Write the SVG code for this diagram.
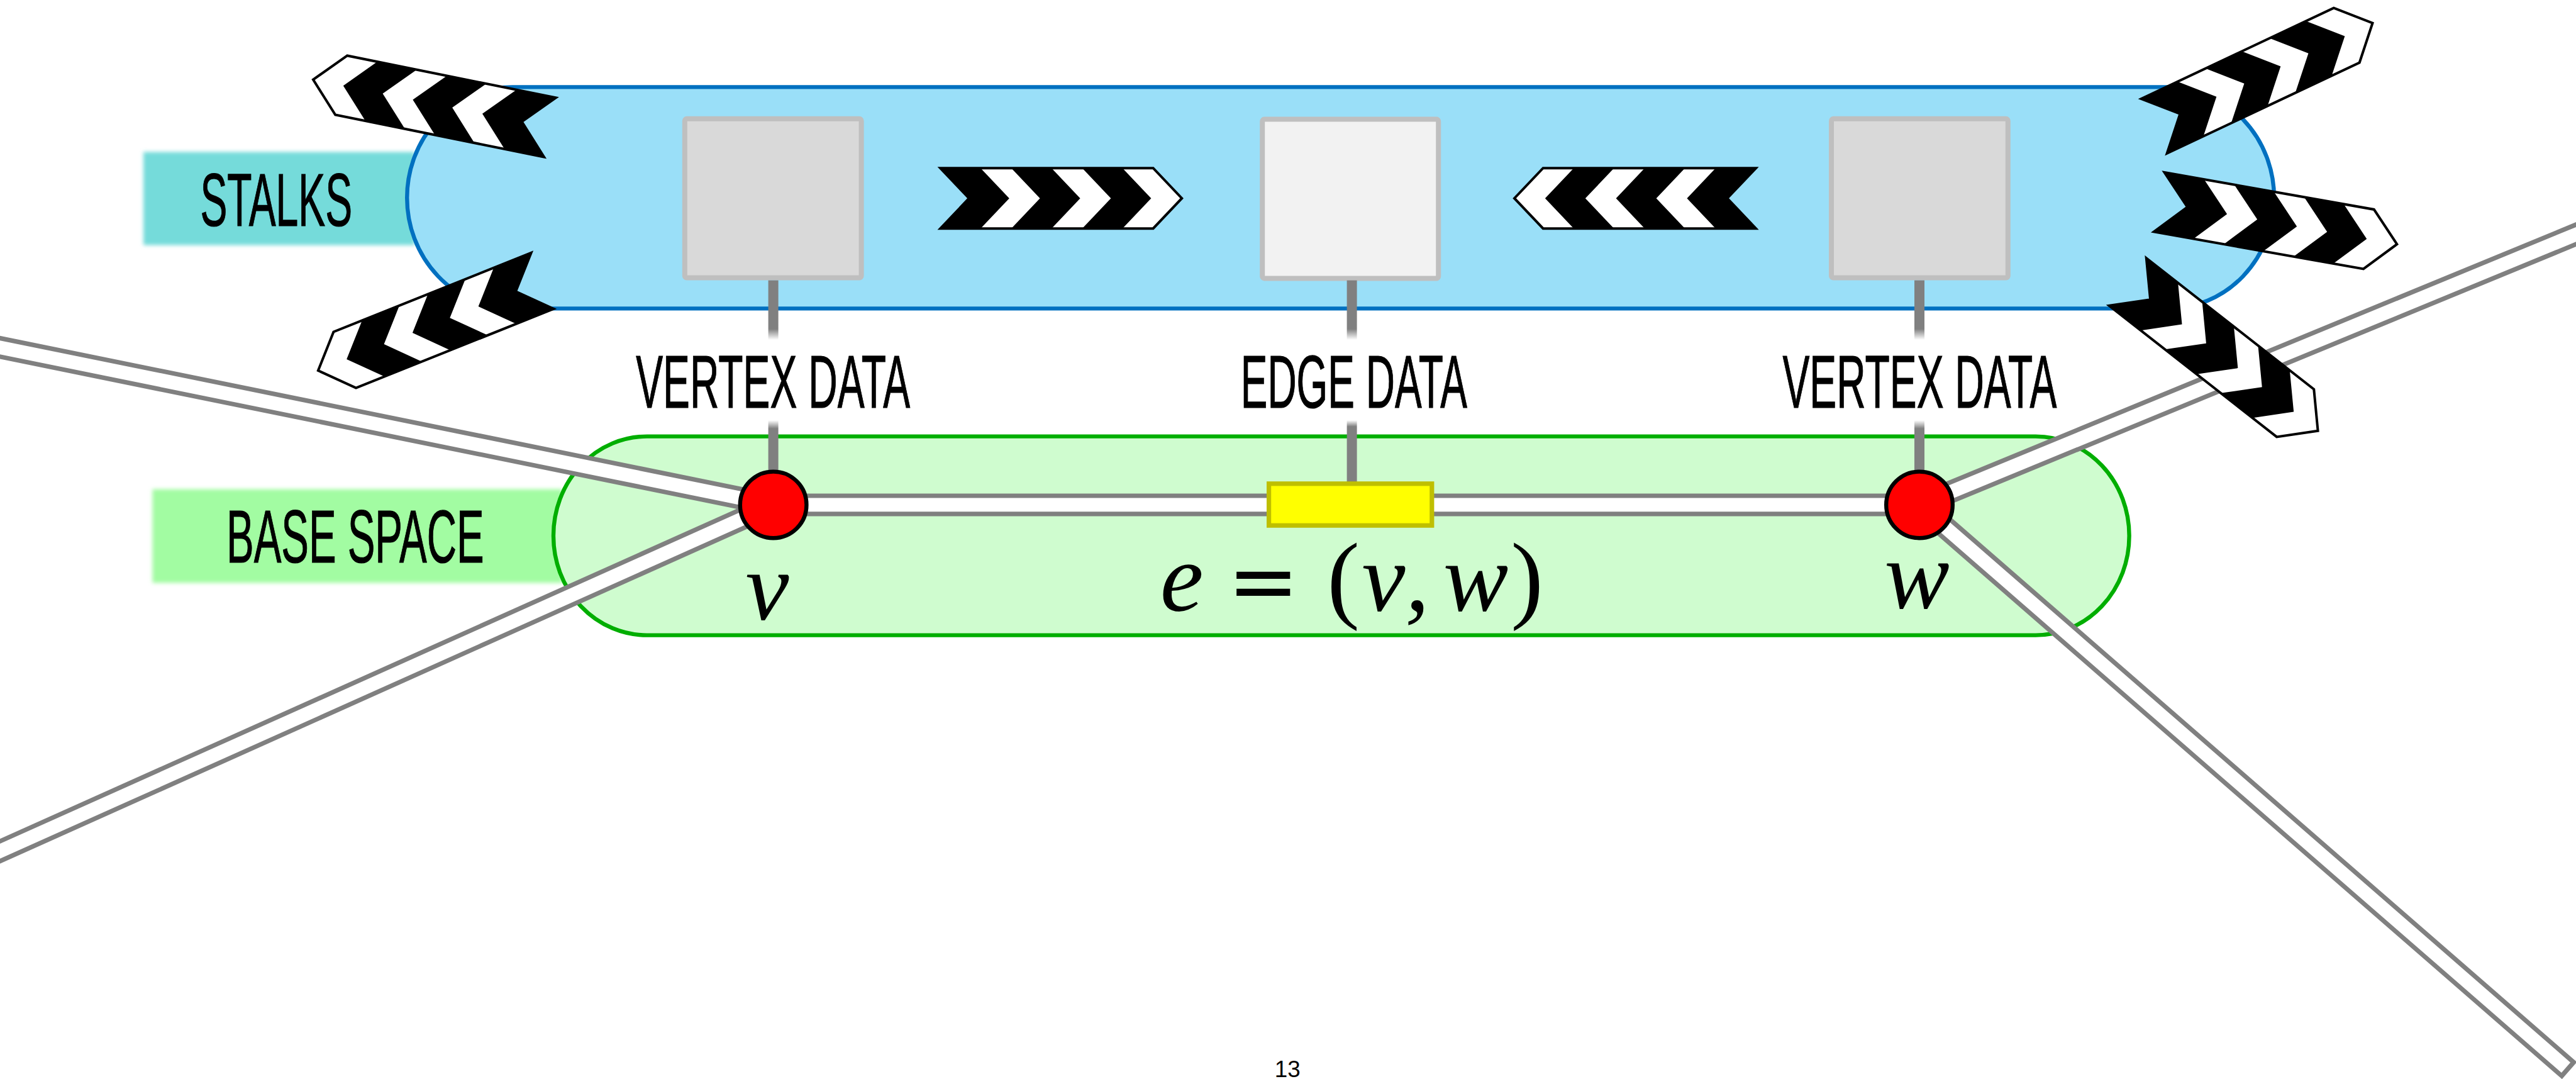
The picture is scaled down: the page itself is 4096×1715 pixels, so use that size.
<svg xmlns="http://www.w3.org/2000/svg" width="4096" height="1715" viewBox="0 0 4096 1715">
<style>
.lbl{font-family:"Liberation Sans",Arial,sans-serif;font-size:148px;fill:#000;stroke:#000;stroke-width:1.5}
.math{font-family:"Liberation Serif","Times New Roman",serif;font-size:194px;fill:#000;text-anchor:middle}
.it{font-style:italic}
.eq{font-family:"DejaVu Sans",sans-serif;font-size:170px}
.road{fill:none;stroke:#808080;stroke-width:45}
.roadw{fill:none;stroke:#fff;stroke-width:27}
.stalk{fill:#D9D9D9;stroke:#BFBFBF;stroke-width:10}
.vert{fill:#FF0000;stroke:#000;stroke-width:8}
.page{font-family:"Liberation Sans",Arial,sans-serif;font-size:46px;fill:#000;text-anchor:middle}
</style>
<defs>
<filter id="soft" x="-5%" y="-10%" width="110%" height="120%"><feGaussianBlur stdDeviation="4"/></filter>
<linearGradient id="fadeDown" x1="0" y1="0" x2="0" y2="1"><stop offset="0" stop-color="#808080"/><stop offset="0.82" stop-color="#808080"/><stop offset="1" stop-color="#808080" stop-opacity="0"/></linearGradient>
<linearGradient id="fadeUp" x1="0" y1="0" x2="0" y2="1"><stop offset="0" stop-color="#808080" stop-opacity="0"/><stop offset="0.1" stop-color="#808080"/><stop offset="1" stop-color="#808080"/></linearGradient>
<g id="chev">
<polygon points="0,-60 423,-60 480,0 423,60 0,60 57,0" fill="#000"/>
<polygon fill="#fff" points="80,-60 141,-60 198,0 141,60 80,60 137,0"/>
<polygon fill="#fff" points="221,-60 282,-60 339,0 282,60 221,60 278,0"/>
<polygon fill="#fff" points="362,-60 423,-60 480,0 423,60 362,60 419,0"/>
<polygon points="0,-60 423,-60 480,0 423,60 0,60 57,0" fill="none" stroke="#000" stroke-width="5"/>
</g>
</defs>
<rect width="4096" height="1715" fill="#fff"/>
<g transform="scale(0.8)">
<g id="label-stalks">
<rect x="285" y="302" width="540" height="185" fill="#74DBDA" filter="url(#soft)"/>
</g>
<g id="label-base">
<rect x="303" y="972" width="815" height="186" fill="#A2FCA2" filter="url(#soft)"/>
</g>
<g id="stalks">
<rect x="809" y="173" width="3711" height="440" rx="210" ry="220" fill="#9ADFF8" stroke="#0070C0" stroke-width="8"/>
</g>
<g id="base-space">
<rect x="1100" y="867" width="3132" height="395" rx="186" ry="197" fill="#CFFCCF" stroke="#00AE00" stroke-width="8"/>
</g>
<g id="stalk-v"><rect class="stalk" x="1361" y="236" width="351" height="316" rx="4"/></g>
<g id="stalk-e"><rect class="stalk" x="2509" y="237" width="350" height="316" rx="4" style="fill:#F2F2F2"/></g>
<g id="stalk-w"><rect class="stalk" x="3640" y="236" width="351" height="316" rx="4"/></g>
<g id="connectors">
<g id="graph-edges">
<path class="road" d="M-60,678 L1537,1003"/>
<path class="road" d="M-60,1718 L1537,1003"/>
<path class="road" d="M1537,1003 L3815,1003"/>
<path class="road" d="M3815,1003 L5180,441"/>
<path class="road" d="M3815,1003 L5107,2127"/>
<path class="roadw" d="M-60,678 L1537,1003"/>
<path class="roadw" d="M-60,1718 L1537,1003"/>
<path class="roadw" d="M1537,1003 L3815,1003"/>
<path class="roadw" d="M3815,1003 L5180,441"/>
<path class="roadw" d="M3815,1003 L5100,2121"/>
</g>
<rect x="1527" y="557" width="20" height="118" fill="url(#fadeDown)"/>
<rect x="1527" y="835" width="20" height="165" fill="url(#fadeUp)"/>
<rect x="2677" y="557" width="20" height="118" fill="url(#fadeDown)"/>
<rect x="2677" y="835" width="20" height="125" fill="url(#fadeUp)"/>
<rect x="3805" y="557" width="20" height="118" fill="url(#fadeDown)"/>
<rect x="3805" y="835" width="20" height="165" fill="url(#fadeUp)"/>
</g>
<g id="edge-e"><rect x="2522" y="961" width="324" height="83" fill="#FFFF00" stroke="#BFBF00" stroke-width="9"/></g>
<g id="vertex-v"><circle class="vert" cx="1537" cy="1003" r="66"/></g>
<g id="vertex-w"><circle class="vert" cx="3815" cy="1003" r="66"/></g>
<g id="texts">
<text class="lbl" x="398" y="449" textLength="302" lengthAdjust="spacingAndGlyphs">STALKS</text>
<text class="lbl" x="450" y="1117" textLength="512" lengthAdjust="spacingAndGlyphs">BASE SPACE</text>
<text class="lbl" x="1264" y="810" textLength="545" lengthAdjust="spacingAndGlyphs">VERTEX DATA</text>
<text class="lbl" x="2466" y="810" textLength="450" lengthAdjust="spacingAndGlyphs">EDGE DATA</text>
<text class="lbl" x="3543" y="810" textLength="545" lengthAdjust="spacingAndGlyphs">VERTEX DATA</text>
<text class="math it" x="1525" y="1230">v</text>
<text class="math it" x="3810" y="1207">w</text>
<text class="math"><tspan class="it" x="2349" y="1212">e</tspan><tspan class="eq" x="2511" y="1212">=</tspan><tspan x="2670" y="1212">(</tspan><tspan class="it" x="2750" y="1212">v</tspan><tspan class="it" x="2817" y="1212">,</tspan><tspan class="it" x="2933" y="1212">w</tspan><tspan x="3035" y="1212">)</tspan></text>
</g>
<g id="arrows">
<use href="#chev" transform="translate(1093,253) rotate(191.4)"/>
<use href="#chev" transform="translate(1078,558) rotate(158.2)"/>
<use href="#chev" transform="translate(1869,394)"/>
<use href="#chev" transform="translate(3490,394) rotate(180)"/>
<use href="#chev" transform="translate(4281.5,250.5) rotate(-25.25)"/>
<use href="#chev" transform="translate(4291.5,401.5) rotate(10.04)"/>
<use href="#chev" transform="translate(4229,560) rotate(38.05)"/>
</g>
<text class="page" x="2559" y="2140">13</text>
</g>
</svg>
